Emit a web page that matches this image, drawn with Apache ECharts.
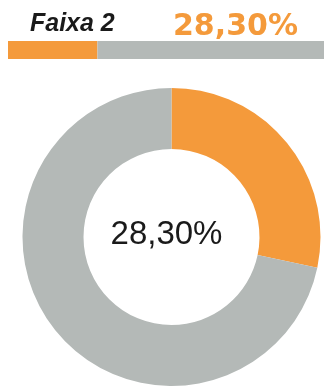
<!DOCTYPE html>
<html>
<head>
<meta charset="utf-8">
<script src="https://cdn.jsdelivr.net/npm/echarts@6/dist/echarts.min.js"></script>
<style>
  html, body { margin: 0; padding: 0; background: #fff; }
  #chart { width: 324px; height: 387px; }
</style>
</head>
<body>
<div id="chart"></div>
<script>
// Share of "Faixa 2" against the remainder
const bandLabel = 'Faixa 2';
const categories = ['Faixa 2', 'Demais'];
const shares = [28.3, 71.7];

const ORANGE = '#F49A3B';
const GRAY = '#B4B9B7';
const colors = [ORANGE, GRAY];

const pctText = v => v.toFixed(2).replace('.', ',') + '%';

const chart = echarts.init(document.getElementById('chart'), null, { renderer: 'canvas' });

chart.setOption({
  animation: false,
  backgroundColor: '#ffffff',
  title: [
    {
      text: bandLabel,
      left: 30, top: 12, padding: 0,
      textStyle: { fontFamily: 'Liberation Sans, Arial, sans-serif', fontSize: 25, fontWeight: 'bold', fontStyle: 'italic', color: '#1a1a1a' }
    },
    {
      text: pctText(shares[0]),
      left: 173, top: 12, padding: 0,
      textStyle: { fontFamily: 'DejaVu Sans, sans-serif', fontSize: 30, fontWeight: 'bold', color: ORANGE }
    }
  ],
  grid: { left: 8, right: 0, top: 41, height: 18, containLabel: false },
  xAxis: { type: 'value', min: 0, max: 100, show: false },
  yAxis: { type: 'category', data: [bandLabel], show: false },
  series: [
    ...categories.map((name, i) => ({
      type: 'bar',
      name,
      stack: 'total',
      data: [shares[i]],
      barWidth: '100%',
      itemStyle: { color: colors[i] },
      silent: true
    })),
    {
      type: 'pie',
      center: [171.5, 237],
      radius: [88, 149],
      startAngle: 90,
      clockwise: true,
      silent: true,
      label: {
        show: true,
        position: 'center',
        offset: [-5, -2],
        formatter: () => pctText(shares[0]),
        fontFamily: 'Liberation Sans, Arial, sans-serif',
        fontSize: 33,
        color: '#1a1a1a'
      },
      labelLine: { show: false },
      data: categories.map((name, i) => ({
        name,
        value: shares[i],
        itemStyle: { color: colors[i] },
        label: { show: i === 0 }
      }))
    }
  ]
});
</script>
</body>
</html>
